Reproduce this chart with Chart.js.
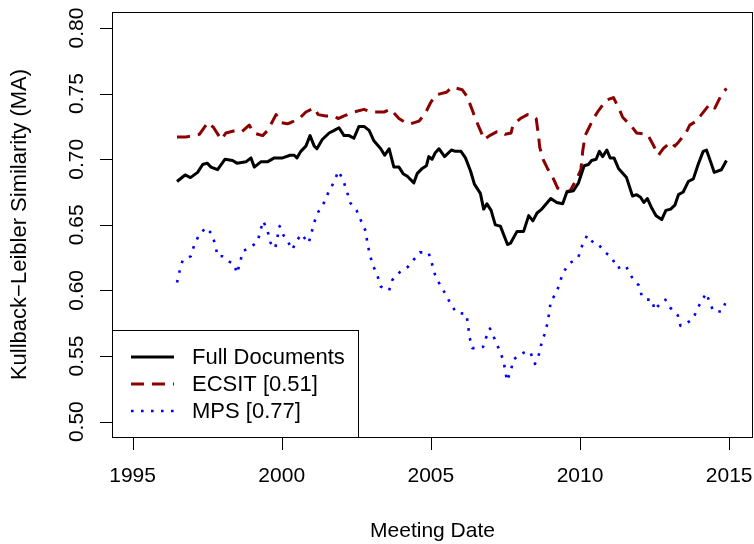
<!DOCTYPE html>
<html>
<head>
<meta charset="utf-8">
<script src="https://cdn.jsdelivr.net/npm/chart.js@4"></script>
<style>
  html, body { margin: 0; padding: 0; background: #fff; }
  canvas { display: block; }
</style>
</head>
<body>
<canvas id="klChart" width="754" height="544"></canvas>
<script>
// Series (decimal year, similarity)
const fullDates = [1996.49, 1996.76, 1996.94, 1997.18, 1997.35, 1997.5, 1997.63, 1997.85, 1998.1, 1998.35, 1998.5, 1998.8, 1998.97, 1999.08, 1999.3, 1999.52, 1999.75, 2000.03, 2000.28, 2000.42, 2000.51, 2000.64, 2000.81, 2000.95, 2001.09, 2001.18, 2001.36, 2001.59, 2001.76, 2001.92, 2002.09, 2002.26, 2002.42, 2002.59, 2002.76, 2002.93, 2003.09, 2003.32, 2003.45, 2003.6, 2003.76, 2003.93, 2004.07, 2004.21, 2004.43, 2004.54, 2004.71, 2004.85, 2004.93, 2005.04, 2005.15, 2005.27, 2005.46, 2005.69, 2005.82, 2006.01, 2006.16, 2006.33, 2006.46, 2006.66, 2006.77, 2006.88, 2007.02, 2007.16, 2007.33, 2007.57, 2007.67, 2007.89, 2008.11, 2008.28, 2008.42, 2008.56, 2008.72, 2008.87, 2009.02, 2009.22, 2009.42, 2009.56, 2009.78, 2009.95, 2010.14, 2010.28, 2010.39, 2010.54, 2010.65, 2010.76, 2010.9, 2011.01, 2011.14, 2011.29, 2011.56, 2011.76, 2011.9, 2012.03, 2012.14, 2012.26, 2012.4, 2012.55, 2012.74, 2012.88, 2013.04, 2013.18, 2013.3, 2013.46, 2013.63, 2013.8, 2013.96, 2014.13, 2014.24, 2014.35, 2014.5, 2014.74, 2014.91];
const fullValues = [0.683, 0.688, 0.686, 0.690, 0.696, 0.697, 0.694, 0.692, 0.700, 0.699, 0.697, 0.698, 0.701, 0.694, 0.698, 0.698, 0.701, 0.701, 0.703, 0.703, 0.701, 0.706, 0.710, 0.718, 0.710, 0.708, 0.715, 0.720, 0.722, 0.724, 0.718, 0.718, 0.716, 0.725, 0.725, 0.722, 0.714, 0.708, 0.703, 0.708, 0.694, 0.694, 0.689, 0.687, 0.682, 0.689, 0.693, 0.695, 0.702, 0.700, 0.705, 0.708, 0.702, 0.707, 0.706, 0.706, 0.701, 0.691, 0.681, 0.674, 0.662, 0.666, 0.661, 0.650, 0.649, 0.635, 0.636, 0.645, 0.645, 0.657, 0.653, 0.659, 0.662, 0.666, 0.670, 0.667, 0.666, 0.675, 0.676, 0.682, 0.695, 0.696, 0.699, 0.700, 0.706, 0.702, 0.707, 0.701, 0.701, 0.693, 0.686, 0.672, 0.673, 0.671, 0.667, 0.670, 0.663, 0.657, 0.654, 0.661, 0.662, 0.665, 0.673, 0.675, 0.683, 0.685, 0.696, 0.706, 0.707, 0.700, 0.690, 0.692, 0.699];

const ecsitDates = [1996.49, 1996.79, 1997.07, 1997.24, 1997.52, 1997.72, 1997.97, 1998.13, 1998.47, 1998.66, 1998.91, 1999.06, 1999.36, 1999.53, 1999.81, 1999.97, 2000.19, 2000.31, 2000.59, 2000.81, 2001.09, 2001.22, 2001.48, 2001.76, 2001.89, 2002.09, 2002.42, 2002.76, 2003.0, 2003.26, 2003.43, 2003.65, 2003.93, 2004.21, 2004.32, 2004.6, 2004.79, 2004.99, 2005.16, 2005.52, 2005.71, 2006.05, 2006.21, 2006.38, 2006.49, 2006.66, 2006.79, 2006.97, 2007.22, 2007.38, 2007.49, 2007.69, 2007.75, 2008.0, 2008.24, 2008.44, 2008.53, 2008.61, 2008.65, 2008.78, 2008.91, 2009.11, 2009.25, 2009.5, 2009.67, 2009.89, 2010.03, 2010.09, 2010.17, 2010.28, 2010.45, 2010.59, 2010.88, 2011.12, 2011.32, 2011.43, 2011.73, 2011.9, 2012.26, 2012.43, 2012.63, 2012.79, 2013.04, 2013.18, 2013.3, 2013.55, 2013.68, 2013.9, 2014.07, 2014.35, 2014.52, 2014.74, 2014.91];
const ecsitValues = [0.717, 0.717, 0.718, 0.719, 0.728, 0.724, 0.715, 0.720, 0.722, 0.721, 0.726, 0.720, 0.718, 0.722, 0.734, 0.728, 0.727, 0.728, 0.731, 0.736, 0.739, 0.734, 0.733, 0.733, 0.731, 0.733, 0.736, 0.738, 0.736, 0.736, 0.736, 0.738, 0.731, 0.727, 0.727, 0.729, 0.734, 0.743, 0.749, 0.751, 0.755, 0.753, 0.748, 0.738, 0.731, 0.722, 0.715, 0.718, 0.721, 0.721, 0.719, 0.720, 0.726, 0.731, 0.734, 0.733, 0.731, 0.718, 0.709, 0.699, 0.693, 0.685, 0.678, 0.675, 0.676, 0.685, 0.692, 0.706, 0.718, 0.723, 0.731, 0.736, 0.745, 0.747, 0.738, 0.732, 0.725, 0.720, 0.719, 0.712, 0.703, 0.708, 0.713, 0.710, 0.713, 0.720, 0.726, 0.729, 0.734, 0.742, 0.739, 0.749, 0.754];

const mpsDates = [1996.49, 1996.58, 1996.68, 1996.95, 1997.06, 1997.22, 1997.46, 1997.66, 1997.78, 1997.85, 1998.01, 1998.24, 1998.41, 1998.5, 1998.61, 1998.7, 1998.96, 1999.19, 1999.29, 1999.38, 1999.53, 1999.63, 1999.78, 1999.93, 2000.06, 2000.19, 2000.35, 2000.51, 2000.66, 2000.9, 2001.0, 2001.09, 2001.23, 2001.42, 2001.57, 2001.76, 2001.9, 2002.06, 2002.18, 2002.29, 2002.51, 2002.68, 2002.82, 2002.87, 2002.95, 2003.04, 2003.2, 2003.32, 2003.6, 2003.71, 2003.96, 2004.23, 2004.41, 2004.63, 2004.92, 2005.03, 2005.14, 2005.31, 2005.5, 2005.68, 2005.86, 2006.19, 2006.25, 2006.3, 2006.39, 2006.51, 2006.75, 2006.85, 2006.98, 2007.12, 2007.27, 2007.41, 2007.49, 2007.55, 2007.69, 2007.75, 2007.92, 2008.22, 2008.35, 2008.49, 2008.61, 2008.69, 2008.8, 2008.91, 2008.97, 2009.02, 2009.21, 2009.32, 2009.44, 2009.67, 2009.94, 2010.07, 2010.24, 2010.46, 2010.63, 2010.79, 2011.07, 2011.24, 2011.53, 2011.69, 2011.82, 2011.97, 2012.07, 2012.2, 2012.42, 2012.5, 2012.61, 2012.86, 2013.02, 2013.28, 2013.37, 2013.56, 2013.78, 2013.94, 2014.07, 2014.24, 2014.34, 2014.48, 2014.76, 2014.9];
const mpsValues = [0.606, 0.615, 0.623, 0.626, 0.634, 0.642, 0.648, 0.643, 0.634, 0.626, 0.626, 0.622, 0.620, 0.613, 0.622, 0.630, 0.633, 0.637, 0.646, 0.653, 0.645, 0.636, 0.632, 0.649, 0.642, 0.638, 0.631, 0.638, 0.643, 0.636, 0.644, 0.652, 0.660, 0.667, 0.675, 0.683, 0.691, 0.684, 0.676, 0.667, 0.661, 0.652, 0.645, 0.636, 0.628, 0.620, 0.612, 0.603, 0.600, 0.608, 0.614, 0.618, 0.623, 0.629, 0.629, 0.621, 0.612, 0.604, 0.597, 0.589, 0.583, 0.582, 0.573, 0.564, 0.556, 0.556, 0.557, 0.564, 0.571, 0.564, 0.556, 0.548, 0.540, 0.531, 0.539, 0.547, 0.550, 0.554, 0.552, 0.544, 0.550, 0.558, 0.566, 0.575, 0.583, 0.592, 0.598, 0.606, 0.614, 0.621, 0.625, 0.634, 0.642, 0.636, 0.635, 0.630, 0.625, 0.617, 0.619, 0.612, 0.607, 0.604, 0.596, 0.593, 0.593, 0.585, 0.588, 0.593, 0.587, 0.581, 0.573, 0.575, 0.578, 0.586, 0.592, 0.598, 0.591, 0.584, 0.584, 0.592];

const seriesLabels = ['Full Documents', 'ECSIT [0.51]', 'MPS [0.77]'];
const xTicks = [1995, 2000, 2005, 2010, 2015];
const yTicks = [0.50, 0.55, 0.60, 0.65, 0.70, 0.75, 0.80];

const FAMILY = '"Liberation Sans", Arial, sans-serif';

function toPoints(xs, ys) {
  return xs.map((x, i) => ({ x: x, y: ys[i] }));
}

// R-style box, axes, titles and legend
const baseAxes = {
  id: 'baseAxes',
  afterDraw(chart) {
    const { ctx, chartArea: a, scales: { x, y } } = chart;
    ctx.save();
    ctx.strokeStyle = '#000';
    ctx.fillStyle = '#000';
    ctx.lineWidth = 1;
    ctx.setLineDash([]);

    // plot box
    ctx.strokeRect(a.left + 0.5, a.top + 0.5, a.right - a.left - 1, a.bottom - a.top);

    // x axis ticks + labels
    ctx.font = '21px ' + FAMILY;
    ctx.textAlign = 'center';
    ctx.textBaseline = 'middle';
    ctx.beginPath();
    xTicks.forEach(t => {
      const px = Math.round(x.getPixelForValue(t)) + 0.5;
      ctx.moveTo(px, a.bottom);
      ctx.lineTo(px, a.bottom + 13);
    });
    ctx.stroke();
    xTicks.forEach(t => {
      ctx.fillText(String(t), x.getPixelForValue(t), a.bottom + 39);
    });

    // y axis ticks + rotated labels
    ctx.beginPath();
    yTicks.forEach(t => {
      const py = Math.round(y.getPixelForValue(t)) + 0.5;
      ctx.moveTo(a.left, py);
      ctx.lineTo(a.left - 12, py);
    });
    ctx.stroke();
    yTicks.forEach(t => {
      ctx.save();
      ctx.translate(a.left - 35, y.getPixelForValue(t));
      ctx.rotate(-Math.PI / 2);
      ctx.fillText(t.toFixed(2), 0, 0);
      ctx.restore();
    });

    // axis titles
    ctx.fillText('Meeting Date', (a.left + a.right) / 2, 531);
    ctx.save();
    ctx.font = '22px ' + FAMILY;
    ctx.translate(20, (a.top + a.bottom) / 2);
    ctx.rotate(-Math.PI / 2);
    ctx.fillText('Kullback\u2212Leibler Similarity (MA)', 0, 0);
    ctx.restore();

    // legend, bottom left
    const lx = a.left, ly = 330, lw = 246, lh = a.bottom - ly;
    ctx.fillStyle = '#fff';
    ctx.fillRect(lx + 1, ly + 1, lw - 1, lh - 1);
    ctx.strokeStyle = '#000';
    ctx.strokeRect(lx + 0.5, ly + 0.5, lw, lh);
    ctx.font = '22px ' + FAMILY;
    ctx.textAlign = 'left';
    const rows = [357, 384, 411];
    chart.data.datasets.forEach((ds, i) => {
      ctx.beginPath();
      ctx.strokeStyle = ds.borderColor;
      ctx.lineWidth = ds.borderWidth;
      ctx.lineCap = 'butt';
      ctx.setLineDash(ds.borderDash || []);
      ctx.moveTo(131, rows[i]);
      ctx.lineTo(174, rows[i]);
      ctx.stroke();
      ctx.setLineDash([]);
      ctx.fillStyle = '#000';
      ctx.fillText(ds.label, 192, rows[i] + 1);
    });
    ctx.restore();
  }
};

const ctx = document.getElementById('klChart').getContext('2d');

new Chart(ctx, {
  type: 'line',
  data: {
    datasets: [
      {
        label: seriesLabels[0],
        data: toPoints(fullDates, fullValues),
        borderColor: '#000000',
        borderWidth: 3,
        borderJoinStyle: 'round'
      },
      {
        label: seriesLabels[1],
        data: toPoints(ecsitDates, ecsitValues),
        borderColor: '#8B0000',
        borderWidth: 3,
        borderDash: [13, 8],
        borderJoinStyle: 'round'
      },
      {
        label: seriesLabels[2],
        data: toPoints(mpsDates, mpsValues),
        borderColor: '#0000FF',
        borderWidth: 2.6,
        borderDash: [2.6, 7.4],
        borderJoinStyle: 'round'
      }
    ]
  },
  options: {
    responsive: false,
    animation: false,
    layout: { padding: { left: 112, top: 12, right: 1, bottom: 107 } },
    elements: { point: { radius: 0 }, line: { tension: 0, fill: false } },
    scales: {
      x: { type: 'linear', min: 1994.31, max: 2015.8, display: false },
      y: { type: 'linear', min: 0.4883, max: 0.8122, display: false }
    },
    plugins: {
      legend: { display: false },
      tooltip: { enabled: false }
    }
  },
  plugins: [baseAxes]
});
</script>
</body>
</html>
